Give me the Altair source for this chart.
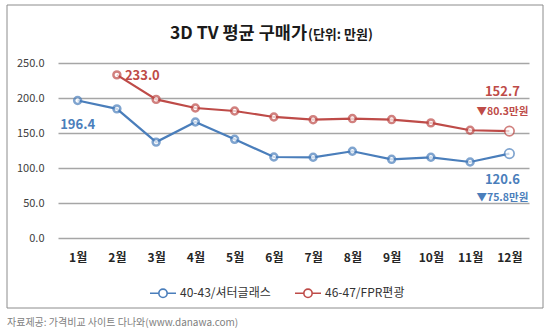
import altair as alt
import pandas as pd

months = ["1월", "2월", "3월", "4월", "5월", "6월", "7월", "8월", "9월", "10월", "11월", "12월"]
series_names = ["40-43/셔터글래스", "46-47/FPR편광"]
blue_values = [196.4, 184.5, 137.0, 165.7, 141.0, 115.7, 115.3, 123.9, 112.4, 115.3, 108.6, 120.6]
red_values = [None, 233.0, 198.0, 185.7, 181.4, 172.9, 169.0, 170.6, 169.2, 164.5, 153.9, 152.7]
y_ticks = [0, 50, 100, 150, 200, 250]
drop_labels = ["▼80.3만원", "▼75.8만원"]
title_main = "3D TV 평균 구매가"
title_unit = "(단위: 만원)"
source_text = "자료제공: 가격비교 사이트 다나와(www.danawa.com)"

BLUE = "#4a7ebb"
RED = "#be4b48"
FONT = "Noto Sans CJK KR"

rows = []
for name, vals in zip(series_names, [blue_values, red_values]):
    for i, (m, v) in enumerate(zip(months, vals)):
        if v is not None:
            rows.append({"month": m, "idx": i + 1, "series": name, "value": v})
df = pd.DataFrame(rows)

x_enc = alt.X("month:O", sort=months,
              scale=alt.Scale(type="point", padding=0.5),
              axis=alt.Axis(title=None, domain=False, ticks=False, labelAngle=0,
                            labelFontWeight="bold", labelFontSize=12, labelColor="#262626",
                            labelPadding=14, labelFont=FONT, grid=False))
y_enc = alt.Y("value:Q", scale=alt.Scale(domain=[0, 250]),
              axis=alt.Axis(title=None, domain=False, ticks=False, values=y_ticks,
                            format=".1f", labelPadding=14, labelFontSize=11,
                            labelColor="#404040", labelFont=FONT,
                            gridColor="#a6a6a6", gridWidth=1.3))

legend_symbol = ("M-1,0L-0.32,0M0.32,0L1,0"
                 "M-0.32,0A0.32,0.32 0 1,0 0.32,0A0.32,0.32 0 1,0 -0.32,0Z")

stroke_scale = alt.Scale(domain=series_names, range=[BLUE, RED])

base = alt.Chart(df)

lines = base.mark_line(strokeWidth=2.2).encode(
    x=x_enc, y=y_enc,
    stroke=alt.Stroke("series:N", scale=stroke_scale,
                      legend=alt.Legend(orient="none", legendX=91, legendY=216,
                                        direction="horizontal", title=None,
                                        symbolType=legend_symbol, symbolSize=676,
                                        symbolStrokeWidth=1.6, symbolFillColor="white",
                                        labelFontSize=12, labelFont=FONT, labelColor="#333333",
                                        labelOffset=3, columnPadding=20, padding=0)),
    detail="series:N",
)

points = base.mark_point(shape="circle", filled=True, fill="white").encode(
    x=x_enc, y=y_enc,
    stroke=alt.Stroke("series:N", scale=stroke_scale, legend=None),
    size=alt.condition("datum.idx == 12", alt.value(90), alt.value(48)),
    strokeWidth=alt.condition("datum.idx == 12", alt.value(1.7), alt.value(2.5)),
)

def value_label(series, idx, color, dx, dy, align="center"):
    return base.transform_filter(
        f"datum.series == '{series}' && datum.idx == {idx}"
    ).mark_text(font=FONT, fontSize=13, fontWeight="bold", color=color,
                dx=dx, dy=dy, align=align, baseline="middle").encode(
        x=x_enc, y=y_enc, text=alt.Text("value:Q", format=".1f"))

def drop_label(series, text, color, dx, dy):
    return base.transform_filter(
        f"datum.series == '{series}' && datum.idx == 12"
    ).transform_calculate(lbl=f"'{text}'").mark_text(
        font=FONT, fontSize=10.5, fontWeight="bold", color=color, dx=dx, dy=dy,
        align="center", baseline="middle").encode(x=x_enc, y=y_enc, text="lbl:N")

lab_b1 = value_label(series_names[0], 1, BLUE, 0, 24)
lab_r2 = value_label(series_names[1], 2, RED, 8, 1, align="left")
lab_r12 = value_label(series_names[1], 12, RED, -7, -39)
lab_b12 = value_label(series_names[0], 12, BLUE, -7, 26)
drop_r = drop_label(series_names[1], drop_labels[0], RED, -7, -19)
drop_b = drop_label(series_names[0], drop_labels[1], BLUE, -7, 44)

one = pd.DataFrame({"a": [0]})
border = alt.Chart(one).mark_rect(fill=None, stroke="#8c8c8c", strokeWidth=1).encode(
    x=alt.value(-51), x2=alt.value(485), y=alt.value(-58), y2=alt.value(245))

t_main = alt.Chart(pd.DataFrame({"t": [title_main]})).mark_text(
    font=FONT, fontSize=17.5, fontWeight="bold", color="#1a1a1a", align="right",
    baseline="middle").encode(x=alt.value(249), y=alt.value(-29.5), text="t:N")
t_unit = alt.Chart(pd.DataFrame({"t": [title_unit]})).mark_text(
    font=FONT, fontSize=13, fontWeight="bold", color="#1a1a1a", align="left",
    baseline="middle").encode(x=alt.value(250), y=alt.value(-28.5), text="t:N")
src = alt.Chart(pd.DataFrame({"t": [source_text]})).mark_text(
    font=FONT, fontSize=10, color="#808080", align="left",
    baseline="middle").encode(x=alt.value(-51), y=alt.value(259.5), text="t:N")

chart = alt.layer(
    border, lines, points, lab_b1, lab_r2, lab_r12, lab_b12, drop_r, drop_b,
    t_main, t_unit, src
).properties(
    width=471, height=175, autosize="none",
    padding={"left": 58, "top": 63, "right": 21, "bottom": 93},
    background="white",
).configure_view(stroke=None)

chart.save("out.html", embed_options={"renderer": "svg", "actions": False})
